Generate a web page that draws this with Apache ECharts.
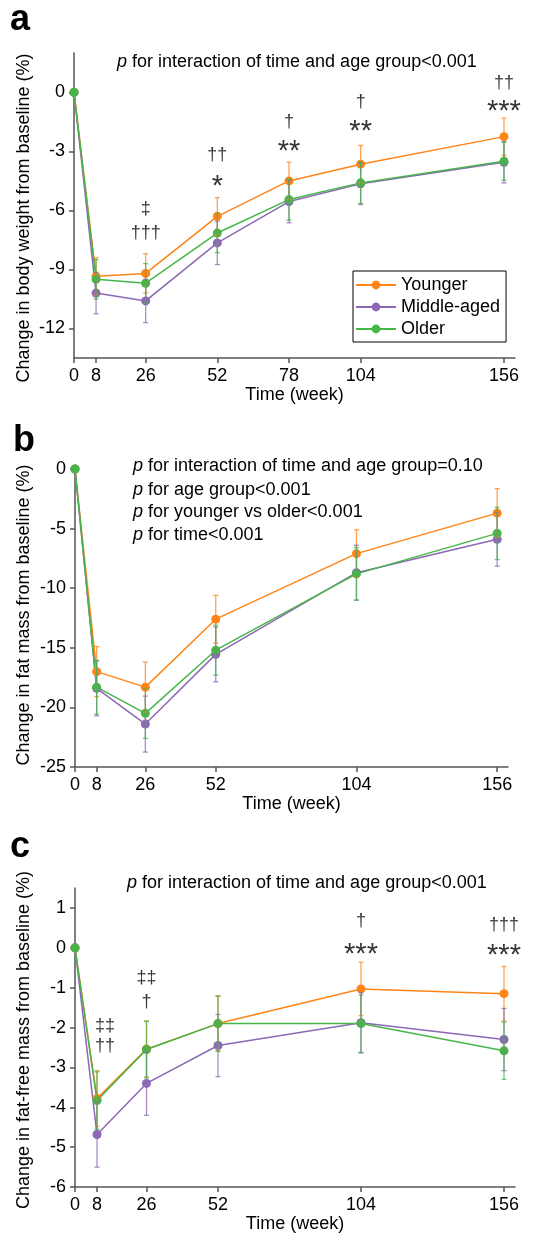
<!DOCTYPE html>
<html>
<head>
<meta charset="utf-8">
<script src="https://cdn.jsdelivr.net/npm/echarts@6/dist/echarts.min.js"></script>
<style>
  html, body { margin: 0; padding: 0; background: #fff; }
  #chart { width: 534px; height: 1234px; }
</style>
</head>
<body>
<div id="chart"></div>
<script>
// weeks
var weeksA = [0, 8, 26, 52, 78, 104, 156];
var weeksB = [0, 8, 26, 52, 104, 156];
var weeksC = [0, 8, 26, 52, 104, 156];

// a: body weight change (%), mean and SD
var bwYounger = [0, -9.35, -9.2, -6.3, -4.5, -3.65, -2.25];
var bwMiddle  = [0, -10.2, -10.6, -7.65, -5.55, -4.65, -3.55];
var bwOlder   = [0, -9.5, -9.7, -7.15, -5.45, -4.6, -3.5];
var bwYoungerSd = [0, 0.95, 1.0, 0.95, 0.95, 0.95, 0.95];
var bwMiddleSd  = [0, 1.05, 1.1, 1.1, 1.08, 1.05, 1.05];
var bwOlderSd   = [0, 1.0, 1.0, 1.0, 1.05, 1.05, 0.97];

// b: fat mass change (%)
var fmYounger = [0, -17.0, -18.3, -12.6, -7.1, -3.7];
var fmMiddle  = [0, -18.4, -21.4, -15.55, -8.7, -5.9];
var fmOlder   = [0, -18.3, -20.5, -15.2, -8.8, -5.4];
var fmYoungerSd = [0, 2.1, 2.1, 2.0, 2.0, 2.05];
var fmMiddleSd  = [0, 2.3, 2.35, 2.3, 2.3, 2.25];
var fmOlderSd   = [0, 2.25, 2.1, 2.1, 2.2, 2.2];

// c: fat-free mass change (%)
var ffmYounger = [0, -3.78, -2.54, -1.9, -1.03, -1.15];
var ffmMiddle  = [0, -4.68, -3.4, -2.45, -1.88, -2.3];
var ffmOlder   = [0, -3.83, -2.55, -1.9, -1.9, -2.58];
var ffmYoungerSd = [0, 0.7, 0.7, 0.68, 0.67, 0.68];
var ffmMiddleSd  = [0, 0.82, 0.8, 0.78, 0.76, 0.78];
var ffmOlderSd   = [0, 0.72, 0.71, 0.7, 0.72, 0.72];

// significance marks: [week, y value, text]
var marksA = [[26, -5.92, '‡'], [26, -7.14, '†††'], [52, -3.21, '††'], [52, -4.39, '*'],
              [78, -1.53, '†'], [78, -2.6, '**'], [104, -0.51, '†'], [104, -1.63, '**'],
              [156, 0.46, '††'], [156, -0.61, '***']];
var marksC = [[8, -1.95, '‡‡'], [8, -2.47, '††'], [26, -0.77, '‡‡'], [26, -1.36, '†'],
              [104, 0.68, '†'], [104, 0.02, '***'], [156, 0.56, '†††'], [156, -0.01, '***']];

var groups = ['Younger', 'Middle-aged', 'Older'];
var colors = ['#FF8418', '#8C68B5', '#46B649'];
var FONT = '"Liberation Sans", Arial, sans-serif';

function pairs(weeks, vals, sd) {
  return weeks.map(function (w, i) { return sd ? [w, vals[i], sd[i]] : [w, vals[i]]; });
}

function errBars(color) {
  return function (params, api) {
    var x = api.value(0), m = api.value(1), e = api.value(2);
    if (!e) return null;
    var t = api.coord([x, m + e]), b = api.coord([x, m - e]);
    var st = { stroke: color, lineWidth: 1.3, opacity: 0.75 };
    return {
      type: 'group',
      children: [
        { type: 'line', shape: { x1: t[0], y1: t[1], x2: b[0], y2: b[1] }, style: st },
        { type: 'line', shape: { x1: t[0] - 2.5, y1: t[1], x2: t[0] + 2.5, y2: t[1] }, style: st },
        { type: 'line', shape: { x1: b[0] - 2.5, y1: b[1], x2: b[0] + 2.5, y2: b[1] }, style: st }
      ]
    };
  };
}

var panels = [
  { weeks: weeksA, means: [bwYounger, bwMiddle, bwOlder], sds: [bwYoungerSd, bwMiddleSd, bwOlderSd], marks: marksA },
  { weeks: weeksB, means: [fmYounger, fmMiddle, fmOlder], sds: [fmYoungerSd, fmMiddleSd, fmOlderSd], marks: [] },
  { weeks: weeksC, means: [ffmYounger, ffmMiddle, ffmOlder], sds: [ffmYoungerSd, ffmMiddleSd, ffmOlderSd], marks: marksC }
];

var axisColor = '#555';
var labelStyle = { color: '#000', fontSize: 18, fontFamily: FONT };

var grids = [
  { left: 74, top: 53, width: 441, height: 305 },
  { left: 75, top: 469, width: 433, height: 298 },
  { left: 75, top: 888, width: 440, height: 302 }
];
var yRanges = [[-13.5, 2, [-12, -9, -6, -3, 0]], [-25, 0, [-25, -20, -15, -10, -5, 0]], [-6, 1.5, [-6, -5, -4, -3, -2, -1, 0, 1]]];

var xAxes = panels.map(function (p, i) {
  return {
    type: 'value', gridIndex: i, min: 0, max: 160,
    name: 'Time (week)', nameLocation: 'middle', nameGap: 27,
    nameTextStyle: { color: '#000', fontSize: 18, fontFamily: FONT },
    axisLine: { show: true, onZero: false, lineStyle: { color: axisColor, width: 1.5 } },
    axisTick: { show: true, length: 5, lineStyle: { color: axisColor, width: 1.5 }, customValues: p.weeks },
    axisLabel: Object.assign({ margin: 9, customValues: p.weeks }, labelStyle),
    splitLine: { show: false }
  };
});

var yAxes = yRanges.map(function (r, i) {
  return {
    type: 'value', gridIndex: i, min: r[0], max: r[1],
    axisLine: { show: true, onZero: false, lineStyle: { color: axisColor, width: 1.5 } },
    axisTick: { show: true, length: 5, lineStyle: { color: axisColor, width: 1.5 }, customValues: r[2] },
    axisLabel: Object.assign({ margin: 9, customValues: r[2] }, labelStyle),
    splitLine: { show: false }
  };
});

var series = [];
panels.forEach(function (p, pi) {
  groups.forEach(function (g, gi) {
    series.push({
      name: g, type: 'line', xAxisIndex: pi, yAxisIndex: pi,
      data: pairs(p.weeks, p.means[gi]),
      symbol: 'circle', symbolSize: 9, clip: false,
      lineStyle: { width: 1.5, color: colors[gi] },
      itemStyle: { color: colors[gi] },
      z: 2
    });
  });
  groups.forEach(function (g, gi) {
    series.push({
      name: g + ' SD', type: 'custom', xAxisIndex: pi, yAxisIndex: pi,
      data: pairs(p.weeks, p.means[gi], p.sds[gi]),
      renderItem: errBars(colors[gi]),
      encode: { x: 0, y: 1 }, silent: true, z: 3
    });
  });
  if (p.marks.length) {
    series.push({
      name: 'marks' + pi, type: 'scatter', xAxisIndex: pi, yAxisIndex: pi,
      symbolSize: 1, itemStyle: { color: 'transparent' }, silent: true, clip: false,
      data: p.marks.map(function (m) {
        var ast = m[2].indexOf('*') >= 0;
        // week-8 marks sit a little right of the crowded lines
        var dx = m[0] === 8 ? 8 : 0;
        return {
          value: [m[0], m[1]],
          label: {
            show: true, position: 'inside', formatter: m[2],
            fontSize: ast ? 29 : 18, fontFamily: FONT, color: '#000',
            offset: [dx, ast ? 8 : 0]
          }
        };
      })
    });
  }
});

function txt(x, y, text, extra) {
  return {
    type: 'text', x: x, y: y, silent: true,
    style: Object.assign({
      text: text, fill: '#000', fontSize: 18, fontFamily: FONT,
      align: 'left', verticalAlign: 'middle',
      rich: { i: { fontStyle: 'italic', fontSize: 18, fontFamily: FONT } }
    }, extra || {})
  };
}
function yName(x, y, text) {
  return {
    type: 'text', x: x, y: y, rotation: Math.PI / 2, silent: true,
    style: { text: text, fill: '#000', fontSize: 18, fontFamily: FONT, align: 'center', verticalAlign: 'middle' }
  };
}

var chart = echarts.init(document.getElementById('chart'));
chart.setOption({
  animation: false,
  grid: grids,
  xAxis: xAxes,
  yAxis: yAxes,
  legend: {
    data: groups, orient: 'vertical', left: 353, top: 271,
    itemWidth: 40, itemHeight: 11, itemGap: 4,
    padding: [5, 6, 4, 2], borderColor: '#000', borderWidth: 1,
    textStyle: { color: '#000', fontSize: 18, fontFamily: FONT }
  },
  series: series,
  graphic: [
    txt(10, 20, 'a', { fontSize: 36, fontWeight: 'bold' }),
    txt(13, 441, 'b', { fontSize: 36, fontWeight: 'bold' }),
    txt(10, 847, 'c', { fontSize: 36, fontWeight: 'bold' }),
    yName(24, 218, 'Change in body weight from baseline (%)'),
    yName(24, 615, 'Change in fat mass from baseline (%)'),
    yName(24, 1040, 'Change in fat-free mass from baseline (%)'),
    txt(117, 62, '{i|p} for interaction of time and age group<0.001'),
    txt(133, 466, '{i|p} for interaction of time and age group=0.10'),
    txt(133, 490, '{i|p} for age group<0.001'),
    txt(133, 512, '{i|p} for younger vs older<0.001'),
    txt(133, 535, '{i|p} for time<0.001'),
    txt(127, 883, '{i|p} for interaction of time and age group<0.001')
  ]
});
window.addEventListener('resize', function () { chart.resize(); });
</script>
</body>
</html>
